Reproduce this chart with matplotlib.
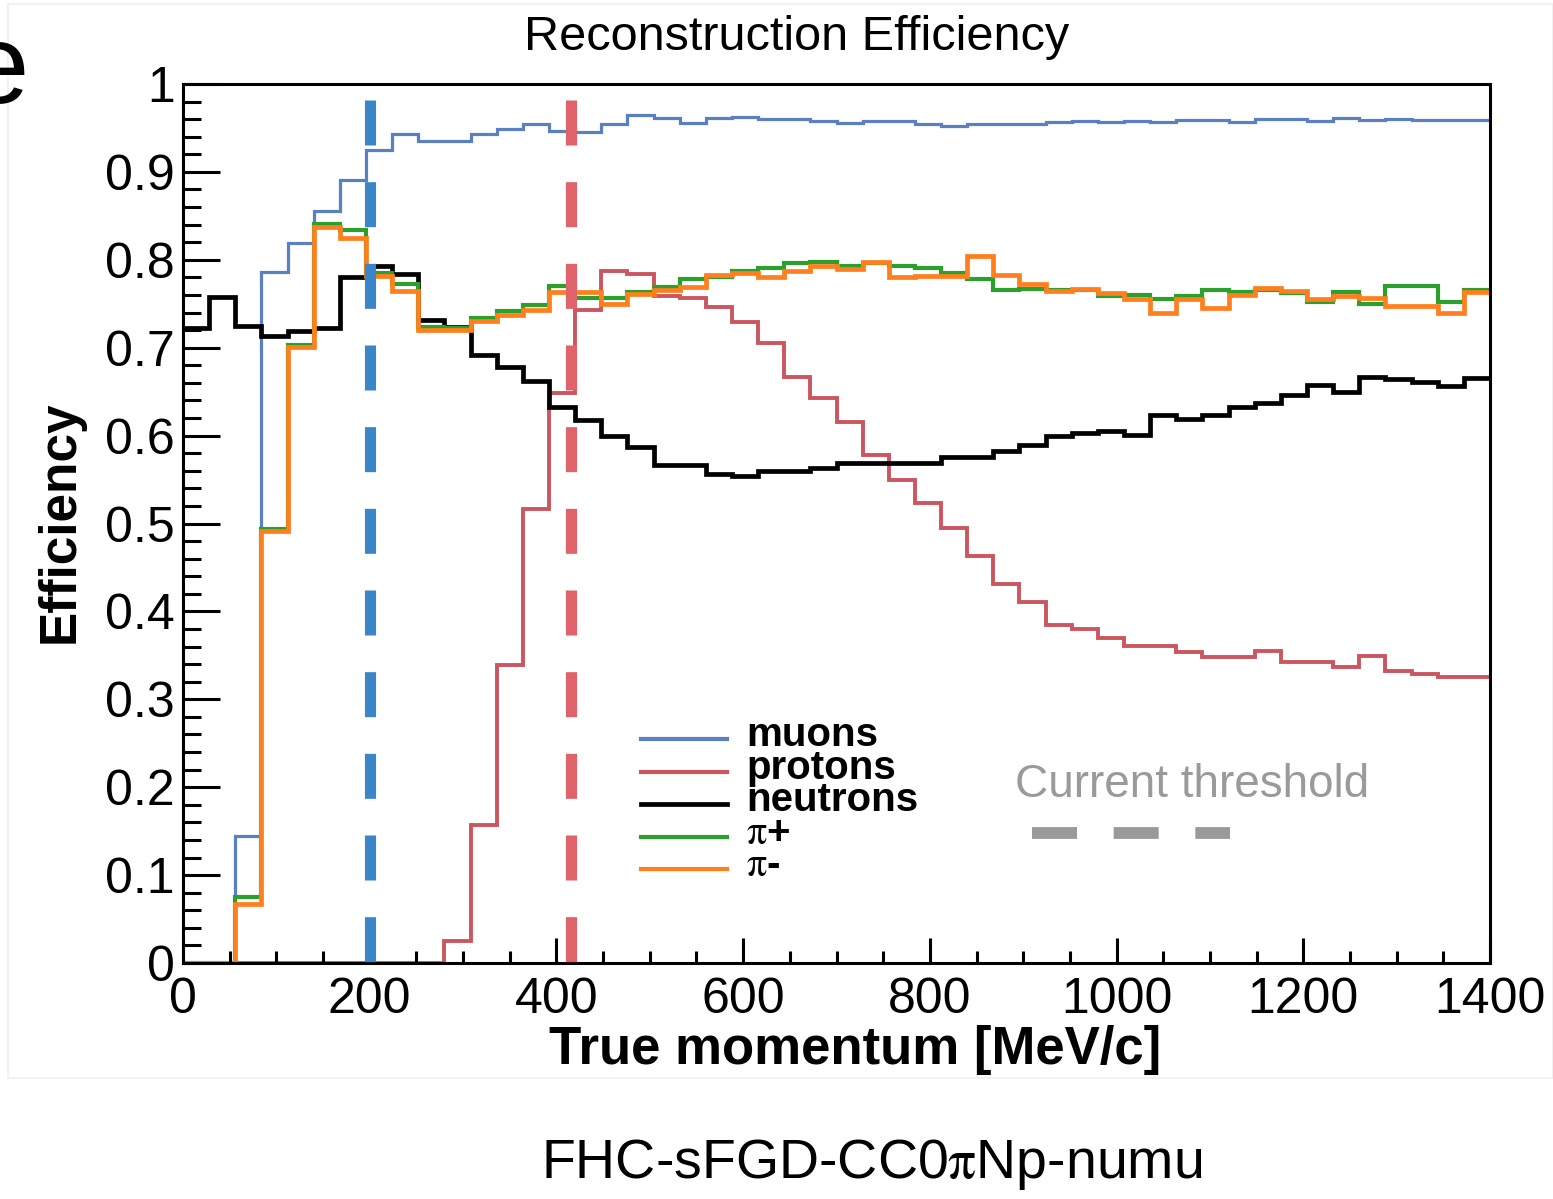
import numpy as np
import matplotlib
matplotlib.use("Agg")
import matplotlib.pyplot as plt
from matplotlib.lines import Line2D
from matplotlib.patches import Rectangle

plt.rcParams['font.family'] = ['Liberation Sans', 'DejaVu Sans']
plt.rcParams['mathtext.fontset'] = 'stix'

# 50 bins of 28 MeV/c between 0 and 1400
mom_min, mom_max, n_bins = 0, 1400, 50

muons = [0, 0, 0.145, 0.786, 0.819, 0.855, 0.891, 0.925, 0.943, 0.935,
         0.935, 0.943, 0.949, 0.954, 0.947, 0.945, 0.954, 0.965, 0.961, 0.956,
         0.961, 0.962, 0.960, 0.960, 0.958, 0.956, 0.958, 0.958, 0.955, 0.952,
         0.955, 0.955, 0.954, 0.957, 0.958, 0.957, 0.958, 0.957, 0.959, 0.959,
         0.957, 0.960, 0.960, 0.958, 0.961, 0.959, 0.960, 0.959, 0.959, 0.959]

protons = [0, 0, 0, 0, 0, 0, 0, 0, 0, 0,
           0.025, 0.157, 0.339, 0.516, 0.649, 0.743, 0.787, 0.784, 0.759, 0.757,
           0.746, 0.729, 0.705, 0.667, 0.643, 0.616, 0.578, 0.550, 0.523, 0.495,
           0.463, 0.431, 0.411, 0.384, 0.380, 0.370, 0.361, 0.361, 0.354, 0.348,
           0.348, 0.355, 0.342, 0.342, 0.337, 0.349, 0.332, 0.329, 0.325, 0.325]

neutrons = [0.722, 0.758, 0.725, 0.713, 0.719, 0.722, 0.781, 0.793, 0.784, 0.732,
            0.724, 0.692, 0.678, 0.662, 0.633, 0.618, 0.600, 0.587, 0.566, 0.566,
            0.556, 0.554, 0.560, 0.560, 0.563, 0.569, 0.569, 0.569, 0.569, 0.576,
            0.576, 0.582, 0.589, 0.600, 0.603, 0.605, 0.601, 0.623, 0.619, 0.623,
            0.632, 0.637, 0.646, 0.658, 0.650, 0.667, 0.664, 0.661, 0.656, 0.665]

pi_plus = [0, 0, 0.075, 0.494, 0.703, 0.841, 0.834, 0.785, 0.772, 0.724,
           0.722, 0.734, 0.742, 0.749, 0.770, 0.756, 0.756, 0.763, 0.769, 0.778,
           0.780, 0.787, 0.791, 0.796, 0.798, 0.793, 0.796, 0.793, 0.791, 0.785,
           0.778, 0.766, 0.767, 0.766, 0.766, 0.759, 0.760, 0.755, 0.759, 0.766,
           0.763, 0.766, 0.762, 0.752, 0.763, 0.750, 0.770, 0.770, 0.752, 0.766]

pi_minus = [0, 0, 0.067, 0.491, 0.701, 0.837, 0.825, 0.782, 0.764, 0.720,
            0.720, 0.730, 0.737, 0.743, 0.763, 0.763, 0.750, 0.761, 0.766, 0.769,
            0.783, 0.785, 0.780, 0.787, 0.793, 0.789, 0.798, 0.780, 0.782, 0.782,
            0.804, 0.783, 0.772, 0.764, 0.767, 0.762, 0.755, 0.740, 0.755, 0.745,
            0.760, 0.768, 0.764, 0.755, 0.759, 0.756, 0.747, 0.747, 0.740, 0.763]

labels = ['muons', 'protons', 'neutrons', r'$\mathrm{\pi}$+', r'$\mathrm{\pi}$-']
colors = ['#5a7fc2', '#cc5660', '#000000', '#2ca02c', '#ff7f1e']
widths = [2.3, 2.8, 3.4, 3.0, 3.4]

# current reconstruction thresholds [MeV/c]
thresholds = [200, 416]
threshold_colors = ['#3a86c8', '#e0626b']
threshold_top = 0.982

W, H = 1553, 1199
fig = plt.figure(figsize=(W / 100, H / 100), dpi=100)
ax = fig.add_axes([183 / W, 1 - 963 / H, (1490 - 183) / W, (963 - 84) / H])

edges = np.linspace(mom_min, mom_max, n_bins + 1)
series = [muons, protons, neutrons, pi_plus, pi_minus]
for vals, col, lw in zip(series, colors, widths):
    ax.stairs(vals, edges, baseline=None, color=col, lw=lw)

lw_thr = 8.0
dash = (0, (32.4 / lw_thr, 26.4 / lw_thr))
for xt, col in zip(thresholds, threshold_colors):
    ax.plot([xt, xt], [threshold_top, 0], color=col, lw=lw_thr, linestyle=dash,
            dash_capstyle='butt', zorder=5)

ax.set_xlim(mom_min, mom_max)
ax.set_ylim(0, 1)
ax.set_xticks(np.arange(0, 1401, 200))
ax.set_xticks(np.arange(0, 1401, 50), minor=True)
ax.set_yticks(np.arange(0, 1.01, 0.1))
ax.set_yticks(np.arange(0, 1.001, 0.02), minor=True)
ax.set_yticklabels([f'{v:g}' for v in np.round(np.arange(0, 1.01, 0.1), 1)])
ax.tick_params(axis='both', which='both', direction='in', width=2.2,
               labelsize=36, top=False, right=False)
ax.tick_params(axis='y', which='major', length=26.5, pad=6)
ax.tick_params(axis='y', which='minor', length=13)
ax.tick_params(axis='x', which='major', length=18, pad=10)
ax.tick_params(axis='x', which='minor', length=9)
for sp in ax.spines.values():
    sp.set_linewidth(2.2)

fig.text(855 / W, 1 - 1050 / H, 'True momentum [MeV/c]', ha='center', va='center',
         fontsize=38, fontweight='bold')
fig.text(60 / W, 1 - 522 / H, 'Efficiency', ha='center', va='center',
         rotation=90, fontsize=37, fontweight='bold')
fig.text(797 / W, 1 - 37 / H, 'Reconstruction Efficiency', ha='center', va='center',
         fontsize=35)
fig.text(872 / W, 1 - 1165 / H, r'FHC-sFGD-CC0$\mathrm{\pi}$Np-numu', ha='center',
         va='center', fontsize=40)
fig.text(28 / W, 1 - 103 / H, 'e', ha='right', va='baseline', fontsize=82)

# legend drawn by hand to get the tight ROOT-like spacing
leg_rows = [739, 772, 804, 837, 869]
for y, lab, col in zip(leg_rows, labels, colors):
    fig.add_artist(Line2D([641 / W, 727 / W], [1 - y / H] * 2, color=col,
                          lw=3.4 if col == '#000000' else 3.0,
                          transform=fig.transFigure))
    fig.text(746 / W, 1 - (y - 4) / H, lab, ha='left', va='center',
             fontsize=29, fontweight='bold')

fig.text(1015 / W, 1 - 785 / H, 'Current threshold', ha='left', va='center',
         fontsize=33, color='#9a9a9a')
fig.add_artist(Line2D([1032 / W, 1230 / W], [1 - 833 / H] * 2, color='#9a9a9a',
                      lw=8.5, linestyle=(0, (32.4 / 8.5, 26.4 / 8.5)),
                      dash_capstyle='butt', transform=fig.transFigure))

fig.add_artist(Rectangle((8 / W, 1 - 1078 / H), (W - 8) / W, (1078 - 4) / H,
                         fill=False, edgecolor='#efefef', lw=1.2,
                         transform=fig.transFigure))

fig.savefig('out.png', dpi=100)
